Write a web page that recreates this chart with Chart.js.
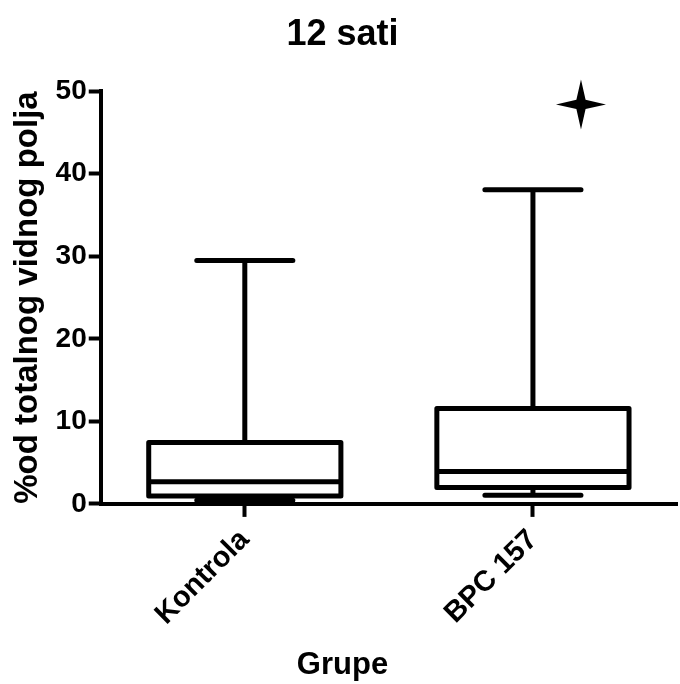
<!DOCTYPE html>
<html>
<head>
<meta charset="utf-8">
<script src="https://cdn.jsdelivr.net/npm/chart.js@4"></script>
<style>
  html, body { margin: 0; padding: 0; background: #fff; }
  #contenedor { width: 680px; height: 684px; }
</style>
</head>
<body>
<div id="contenedor"><canvas id="grafica"></canvas></div>
<script>
const GRUPE = ['Kontrola', 'BPC 157']
const MINIMUM = [0.45, 1.05]
const Q1 = [0.97, 1.98]
const MEDIJAN = [2.67, 3.92]
const Q3 = [7.44, 11.57]
const MAKSIMUM = [29.5, 38.07]
// izdvojene vrijednosti (outliers) po grupi
const IZDVOJENI = [[], [48.4]]
const Y_TICKS = [0, 10, 20, 30, 40, 50]

const FONT = '"Liberation Sans", Arial, Helvetica, sans-serif'
const DEBLJINA = 5

function zvijezda(ctx, x, y, r, ri){
  ctx.beginPath()
  for(let i = 0; i < 8; i++){
    const ang = -Math.PI/2 + i * Math.PI/4
    const rr = i % 2 === 0 ? r : ri
    const px = x + Math.cos(ang) * rr
    const py = y + Math.sin(ang) * rr
    if(i === 0) ctx.moveTo(px, py)
    else ctx.lineTo(px, py)
  }
  ctx.closePath()
  ctx.fill()
}

const kutije = {
  id: 'kutije',
  afterDatasetsDraw(chart){
    const ctx = chart.ctx
    const y = chart.scales.y
    const meta = chart.getDatasetMeta(0)
    ctx.save()
    ctx.strokeStyle = '#000'
    ctx.fillStyle = '#000'
    ctx.lineWidth = DEBLJINA
    ctx.lineJoin = 'round'
    ctx.lineCap = 'round'
    meta.data.forEach((bar, i) => {
      const cx = bar.x
      const pola = bar.width / 2
      const kapa = pola / 2
      const yq1 = y.getPixelForValue(Q1[i])
      const yq3 = y.getPixelForValue(Q3[i])
      const ymed = y.getPixelForValue(MEDIJAN[i])
      const ymin = y.getPixelForValue(MINIMUM[i])
      const ymax = y.getPixelForValue(MAKSIMUM[i])

      // brkovi
      ctx.lineCap = 'butt'
      ctx.beginPath()
      ctx.moveTo(cx, yq3); ctx.lineTo(cx, ymax)
      ctx.moveTo(cx, yq1); ctx.lineTo(cx, ymin)
      ctx.stroke()
      ctx.lineCap = 'round'
      ctx.beginPath()
      ctx.moveTo(cx - kapa, ymax); ctx.lineTo(cx + kapa, ymax)
      ctx.moveTo(cx - kapa, ymin); ctx.lineTo(cx + kapa, ymin)
      ctx.stroke()

      // kutija
      ctx.fillStyle = '#fff'
      ctx.fillRect(cx - pola, yq3, pola * 2, yq1 - yq3)
      ctx.strokeRect(cx - pola, yq3, pola * 2, yq1 - yq3)
      ctx.lineCap = 'butt'
      ctx.beginPath()
      ctx.moveTo(cx - pola, ymed); ctx.lineTo(cx + pola, ymed)
      ctx.stroke()
      ctx.lineCap = 'round'

      ctx.fillStyle = '#000'
      IZDVOJENI[i].forEach(v => {
        zvijezda(ctx, cx + kapa, y.getPixelForValue(v), 25, 6.5)
      })
    })
    ctx.restore()
  }
}

const ctx = document.getElementById('grafica').getContext('2d')

new Chart(ctx, {
  type: 'bar',
  data: {
    labels: GRUPE,
    datasets: [{
      label: '12 sati',
      data: GRUPE.map((g, i) => [Q1[i], Q3[i]]),
      backgroundColor: '#fff',
      borderWidth: 0,
      barPercentage: 0.667,
      categoryPercentage: 1
    }]
  },
  options: {
    responsive: true,
    maintainAspectRatio: false,
    animation: false,
    layout: { padding: { left: 8, right: 3, top: 0, bottom: 0 } },
    plugins: {
      legend: { display: false },
      tooltip: { enabled: false },
      title: {
        display: true,
        text: '12 sati',
        color: '#000',
        font: { family: FONT, size: 36, weight: 'bold' },
        padding: { top: 13, bottom: 35 }
      },
      subtitle: {
        display: true,
        position: 'bottom',
        text: 'Grupe',
        color: '#000',
        font: { family: FONT, size: 31, weight: 'bold' },
        padding: { top: 9, bottom: 0 }
      }
    },
    scales: {
      x: {
        offset: true,
        grid: {
          offset: false,
          drawOnChartArea: false,
          drawTicks: true,
          tickLength: 13,
          tickWidth: 4,
          tickColor: '#000'
        },
        border: { display: true, width: 4, color: '#000' },
        ticks: {
          color: '#000',
          font: { family: FONT, size: 29, weight: 'bold' },
          minRotation: 45,
          maxRotation: 45,
          padding: 6
        }
      },
      y: {
        min: 0,
        max: 50,
        afterBuildTicks(axis){
          axis.ticks = Y_TICKS.map(v => ({ value: v }))
        },
        grid: {
          drawOnChartArea: false,
          drawTicks: true,
          tickLength: 12,
          tickWidth: 4,
          tickColor: '#000'
        },
        border: { display: true, width: 4, color: '#000' },
        ticks: {
          color: '#000',
          font: { family: FONT, size: 28, weight: 'bold' },
          padding: 2
        },
        title: {
          display: true,
          text: '%od totalnog vidnog polja',
          color: '#000',
          font: { family: FONT, size: 33, weight: 'bold' },
          padding: { top: 0, bottom: 6 }
        }
      }
    }
  },
  plugins: [kutije]
})
</script>
</body>
</html>
